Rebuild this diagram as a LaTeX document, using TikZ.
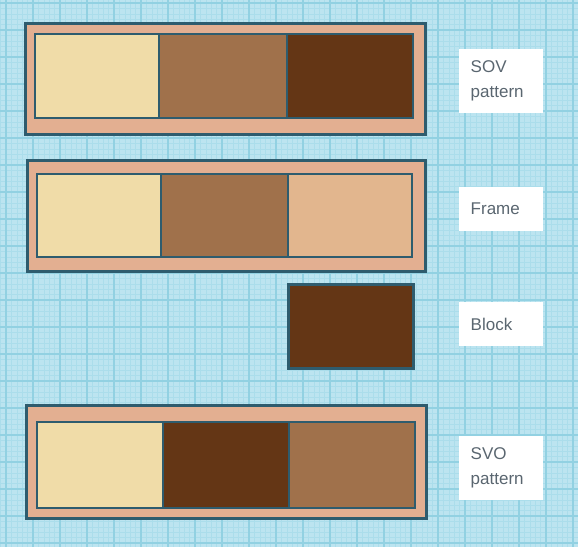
\documentclass[tikz,border=0pt]{standalone}
\usepackage{fontspec}
\setmainfont{Liberation Sans}
\definecolor{bgblue}{HTML}{BCE4F0}
\definecolor{gridmaj}{HTML}{92D1E2}
\definecolor{gridmin}{HTML}{ABDDEB}
\definecolor{edge}{HTML}{2E5C6E}
\definecolor{framefill}{HTML}{E3AF91}
\definecolor{cLight}{HTML}{F0DCA8}
\definecolor{cMid}{HTML}{A0714B}
\definecolor{cDark}{HTML}{643615}
\definecolor{cTan}{HTML}{E2B68E}
\definecolor{labeltext}{HTML}{5A6670}
\tikzset{
  outerbox/.style={draw=edge, line width=3pt, fill=framefill, inner sep=0pt, outer sep=0pt},
  cellbox/.style={draw=edge, line width=2.2pt, inner sep=0pt, outer sep=0pt},
  labelbox/.style={fill=white, inner xsep=11.5pt, inner ysep=0pt, text width=61pt, align=left,
     text=labeltext, font=\fontsize{17}{25}\selectfont, anchor=west},
}
\begin{document}
\begin{tikzpicture}[x=1pt,y=-1pt]
\useasboundingbox (0,0) rectangle (578,547);
\fill[bgblue] (0,0) rectangle (578,547);
% minor grid
\foreach \i in {-5,...,110} {
  \draw[gridmin, line width=0.5pt] ({6+5.4*\i},0) -- ({6+5.4*\i},547);
  \draw[gridmin, line width=0.5pt] (0,{3+5.4*\i}) -- (578,{3+5.4*\i});
}
% major grid
\foreach \i in {0,...,21} {
  \draw[gridmaj, line width=1.1pt] ({6+27*\i},0) -- ({6+27*\i},547);
  \draw[gridmaj, line width=1.1pt] (0,{3+27*\i}) -- (578,{3+27*\i});
}
% SOV pattern
\node[outerbox, minimum width=400pt, minimum height=111pt] (sov) at (225,78.5) {};
\node[cellbox, fill=cLight, minimum width=124pt, minimum height=84pt] (sovS) at (97,76) {};
\node[cellbox, fill=cMid, minimum width=128pt, minimum height=84pt] (sovO) at (223,76) {};
\node[cellbox, fill=cDark, minimum width=126pt, minimum height=84pt] (sovV) at (350,76) {};
% Frame
\node[outerbox, minimum width=398pt, minimum height=111pt] (frame) at (226,215.5) {};
\node[cellbox, fill=cLight, minimum width=124pt, minimum height=83pt] (frS) at (99,215.5) {};
\node[cellbox, fill=cMid, minimum width=127pt, minimum height=83pt] (frO) at (224.5,215.5) {};
\node[cellbox, fill=cTan, minimum width=124pt, minimum height=83pt] (frSlot) at (350,215.5) {};
% Block
\node[cellbox, line width=3pt, fill=cDark, minimum width=125pt, minimum height=84pt] (block) at (350.5,326) {};
% SVO pattern
\node[outerbox, minimum width=400pt, minimum height=113pt] (svo) at (226,461.5) {};
\node[cellbox, fill=cLight, minimum width=126pt, minimum height=86pt] (svoS) at (100,465) {};
\node[cellbox, fill=cDark, minimum width=126pt, minimum height=86pt] (svoV) at (226,465) {};
\node[cellbox, fill=cMid, minimum width=126pt, minimum height=86pt] (svoO) at (352,465) {};
% labels
\node[labelbox, minimum height=64pt] (lsov) at (459,81) {SOV\\pattern};
\node[labelbox, minimum height=44pt] (lframe) at (459,209) {Frame};
\node[labelbox, minimum height=44pt] (lblock) at (459,324) {Block};
\node[labelbox, minimum height=64pt] (lsvo) at (459,468) {SVO\\pattern};
\end{tikzpicture}
\end{document}
